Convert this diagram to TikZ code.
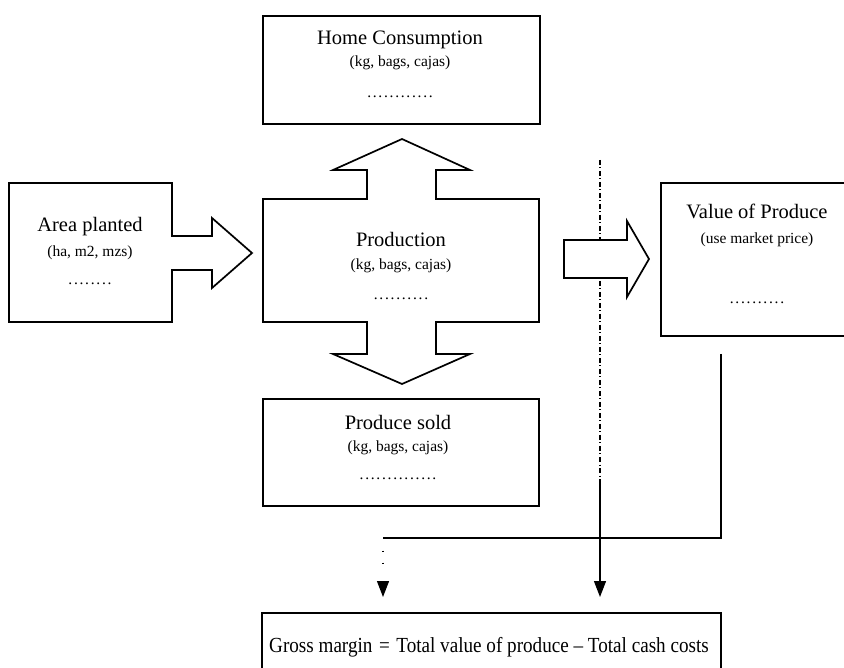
\documentclass[tikz,border=0pt]{standalone}
\usepackage{fontspec}
\setmainfont{Liberation Serif}
\usetikzlibrary{arrows.meta}

% a row of evenly spaced leader dots
\newcount\leadcnt
\newcommand{\dotrow}[1]{\leadcnt=0 \loop\makebox[5.6pt]{.}\advance\leadcnt by 1 \ifnum\leadcnt<#1\repeat}

\tikzset{
  outline/.style={draw=black, line width=1.7pt, line join=miter, fill=white},
  title/.style={font=\fontsize{20.5}{24}\selectfont, inner sep=0pt, anchor=base},
  unit/.style={font=\fontsize{15.5}{18}\selectfont, inner sep=0pt, anchor=base},
  formula/.style={font=\fontsize{21.5}{25}\selectfont, inner sep=0pt, anchor=base},
  link/.style={draw=black, line width=1.3pt},
  tip/.style={-{Triangle[length=16pt, width=12pt]}},
  dashdot/.style={draw=black, line width=1.2pt, dash pattern=on 5pt off 2.5pt on 1pt off 2.5pt},
}

\begin{document}
\begin{tikzpicture}[x=1pt, y=-1pt]
\useasboundingbox (0,0) rectangle (844,668);

% vertical dash-dot guide, drawn first so the arrow covers it
\coordinate (guideTop) at (600,160);
\coordinate (guideMid) at (600,480);
\coordinate (gmRight) at (600,597);
\draw[dashdot] (guideTop) -- (guideMid);
\draw[link, tip] (guideMid) -- (gmRight);

% Area planted box with its arrow
\draw[outline] (9,183) -- (172,183) -- (172,236) -- (212,236) -- (212,218) -- (252,253)
  -- (212,288) -- (212,270) -- (172,270) -- (172,322) -- (9,322) -- cycle;
\node[title] (areaT) at (90,232) {Area planted};
\node[unit]  (areaU) at (90,257) {(ha, m2, mzs)};
\node[unit]  (areaD) at (90,285) {\dotrow{8}};

% Production with double arrow up and down
\draw[outline] (263,199) -- (367,199) -- (367,170) -- (333,170) -- (402,139) -- (470,170)
  -- (436,170) -- (436,199) -- (539,199) -- (539,322) -- (436,322) -- (436,354)
  -- (470,354) -- (402,384) -- (333,354) -- (367,354) -- (367,322) -- (263,322) -- cycle;
\node[title] (prodT) at (401,247) {Production};
\node[unit]  (prodU) at (401,270) {(kg, bags, cajas)};
\node[unit]  (prodD) at (401,300) {\dotrow{10}};

% Home consumption
\draw[outline] (263,16) rectangle (540,124);
\node[title] (homeT) at (400,45) {Home Consumption};
\node[unit]  (homeU) at (400,67) {(kg, bags, cajas)};
\node[unit]  (homeD) at (400,98) {\dotrow{12}};

% Produce sold
\draw[outline] (263,399) rectangle (539,506);
\node[title] (soldT) at (398,430) {Produce sold};
\node[unit]  (soldU) at (398,452) {(kg, bags, cajas)};
\node[unit]  (soldD) at (398,479) {\dotrow{14}};

% arrow towards the value box
\draw[outline] (564,240) -- (627,240) -- (627,221) -- (649,259) -- (627,297) -- (627,278)
  -- (564,278) -- cycle;

% Value of produce (open on the right)
\draw[outline, fill=none] (844,183) -- (661,183) -- (661,336) -- (844,336);
\node[title] (valT) at (757,219) {Value of Produce};
\node[unit]  (valU) at (757,244) {(use market price)};
\node[unit]  (valD) at (757,304) {\dotrow{10}};

% gross margin box (open at the bottom)
\draw[outline, fill=none] (262,668) -- (262,613) -- (721,613) -- (721,668);
\node[formula] (gm) at (489,652)
  {\scalebox{0.89}[1]{Gross margin\hspace{2pt} = \hspace{2pt}Total value of produce -- Total cash costs}};

% value feeds the gross margin
\coordinate (valOut) at (721,354);
\coordinate (elbow) at (383,538);
\coordinate (gmLeft) at (383,597);
\draw[link] (valOut) |- (elbow);
\draw[link, tip, dash pattern=on 1.5pt off 10.5pt on 1.5pt off 30pt, dash phase=31pt]
  (elbow) -- (gmLeft);
\end{tikzpicture}
\end{document}
